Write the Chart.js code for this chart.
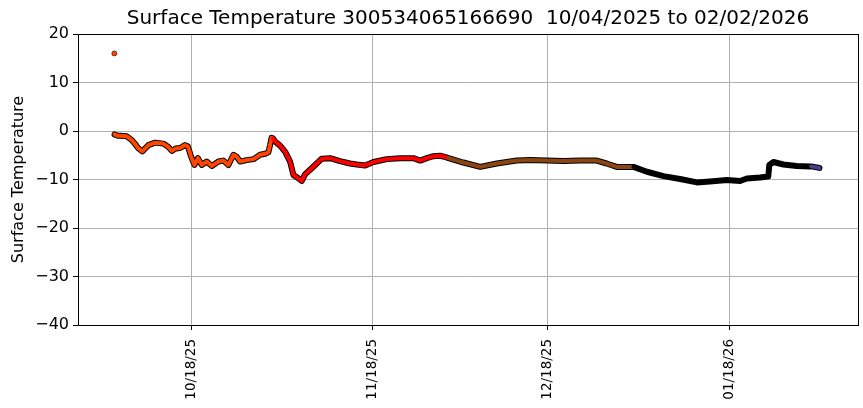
<!DOCTYPE html>
<html>
<head>
<meta charset="utf-8">
<script src="https://cdn.jsdelivr.net/npm/chart.js@4"></script>
<style>
  html, body { margin: 0; padding: 0; background: #fff; }
  #wrap { width: 863px; height: 408px; }
</style>
</head>
<body>
<div id="wrap"><canvas id="myChart" width="863" height="408"></canvas></div>
<script>
// readings (UTC)
const readingTimes = [
  '2025-10-04T22:00', '2025-10-05T12:00', '2025-10-05T21:00', '2025-10-07T00:00', '2025-10-07T21:00',
  '2025-10-08T09:00', '2025-10-09T00:00', '2025-10-09T16:00', '2025-10-10T17:00', '2025-10-11T20:00',
  '2025-10-13T06:00', '2025-10-14T03:00', '2025-10-14T17:00', '2025-10-15T09:00', '2025-10-16T03:00',
  '2025-10-16T23:00', '2025-10-17T11:00', '2025-10-18T00:00', '2025-10-18T14:00', '2025-10-19T04:00',
  '2025-10-19T20:00', '2025-10-20T16:00', '2025-10-21T13:00', '2025-10-22T16:00', '2025-10-23T12:00',
  '2025-10-24T09:00', '2025-10-25T06:00', '2025-10-25T19:00', '2025-10-26T09:00', '2025-10-27T12:00',
  '2025-10-28T16:00', '2025-10-29T19:00', '2025-10-30T16:00', '2025-10-31T05:00', '2025-10-31T12:00',
  '2025-10-31T18:00',
  '2025-11-01T00:00', '2025-11-01T09:00', '2025-11-02T05:00', '2025-11-03T02:00', '2025-11-03T22:00',
  '2025-11-04T12:00', '2025-11-05T04:00', '2025-11-05T22:00', '2025-11-06T12:00', '2025-11-07T08:00',
  '2025-11-08T05:00', '2025-11-09T08:00', '2025-11-10T18:00', '2025-11-12T11:00', '2025-11-14T04:00',
  '2025-11-15T08:00', '2025-11-16T18:00', '2025-11-18T04:00', '2025-11-20T11:00', '2025-11-22T18:00',
  '2025-11-25T00:00', '2025-11-26T04:00', '2025-11-27T07:00', '2025-11-28T10:00', '2025-11-29T13:00',
  '2025-11-30T12:00',
  '2025-12-01T00:00', '2025-12-03T13:00', '2025-12-06T10:00', '2025-12-09T06:00', '2025-12-12T16:00',
  '2025-12-15T00:00', '2025-12-17T19:00', '2025-12-20T15:00', '2025-12-23T12:00', '2025-12-26T08:00',
  '2025-12-28T01:00', '2025-12-29T18:00', '2025-12-31T12:00',
  '2026-01-01T15:00', '2026-01-03T22:00', '2026-01-06T18:00', '2026-01-09T14:00', '2026-01-12T11:00',
  '2026-01-14T17:00', '2026-01-17T14:00', '2026-01-19T20:00', '2026-01-21T00:00', '2026-01-23T06:00',
  '2026-01-24T16:00', '2026-01-24T20:00', '2026-01-25T13:00', '2026-01-27T06:00', '2026-01-29T13:00',
  '2026-01-31T19:00',
  '2026-02-01T00:00', '2026-02-02T10:00'
];
const readingTemps = [
  -0.7, -1.0, -1.0, -1.1, -1.9,
  -2.6, -3.6, -4.2, -2.9, -2.4,
  -2.6, -3.3, -4.1, -3.6, -3.5,
  -2.9, -3.2, -5.3, -7.0, -5.6,
  -7.0, -6.3, -7.2, -6.3, -6.1,
  -7.0, -4.9, -5.3, -6.3, -6.0,
  -5.8, -4.9, -4.7, -4.4, -2.9,
  -1.4,
  -1.5, -2.2, -3.0, -4.3, -6.3,
  -9.1, -9.6, -10.3, -8.9, -8.0,
  -7.0, -5.7, -5.6, -6.2, -6.7,
  -6.9, -7.1, -6.4, -5.8, -5.6,
  -5.6, -6.1, -5.6, -5.2, -5.1,
  -5.4,
  -5.6, -6.5, -7.4, -6.7, -6.1,
  -6.0, -6.1, -6.2, -6.1, -6.1,
  -6.7, -7.4, -7.4,
  -7.4, -8.4, -9.3, -9.9, -10.6,
  -10.4, -10.1, -10.3, -9.8, -9.6,
  -9.4, -7.0, -6.4, -6.9, -7.2,
  -7.3,
  -7.3, -7.6
];
// lone reading well above the rest
const outlierTimes = ['2025-10-04T21:00'];
const outlierTemps = [16.0];

const tickDates = ['2025-10-18T00:00', '2025-11-18T00:00', '2025-12-18T00:00', '2026-01-18T00:00'];
const yTicks = [-40, -30, -20, -10, 0, 10, 20];
// colour by month: Oct, Nov, Dec, Jan, Feb
const monthColors = { 9: '#ff4500', 10: '#ff0000', 11: '#8b4513', 0: '#000000', 1: '#483d8b' };

const titleText = 'Surface Temperature 300534065166690  10/04/2025 to 02/02/2026';

function utc(s) { return Date.parse(s + ':00Z'); }
function colorAt(ms) { return monthColors[new Date(ms).getUTCMonth()]; }
function pad2(n) { return String(n).padStart(2, '0'); }

const points = readingTimes.map((t, i) => ({ x: utc(t), y: readingTemps[i] }));
const outliers = outlierTimes.map((t, i) => ({ x: utc(t), y: outlierTemps[i] }));
const xMin = utc('2025-09-28T16:00');
const xMax = utc('2026-02-09T00:00');

// full box around the plot + title centred over the axes (matplotlib style)
const frame = {
  id: 'frame',
  afterDraw(chart) {
    const a = chart.chartArea, c = chart.ctx;
    c.save();
    c.strokeStyle = '#000';
    c.lineWidth = 1;
    c.strokeRect(Math.round(a.left) + 0.5, Math.round(a.top) + 0.5,
                 Math.round(a.right - a.left), Math.round(a.bottom - a.top));
    c.fillStyle = '#000';
    c.font = '20px "DejaVu Sans", sans-serif';
    c.textAlign = 'center';
    c.textBaseline = 'middle';
    c.fillText(titleText, (a.left + a.right) / 2, 19);
    c.restore();
  }
};

Chart.defaults.font.family = '"DejaVu Sans", sans-serif';
Chart.defaults.color = '#000';

new Chart(document.getElementById('myChart'), {
  type: 'line',
  data: {
    datasets: [
      {
        data: points,
        borderWidth: 4,
        borderColor: '#ff4500',
        segment: { borderColor: ctx => colorAt(ctx.p0.parsed.x) },
        borderCapStyle: 'round',
        borderJoinStyle: 'round',
        pointRadius: 0,
        tension: 0,
        order: 1
      },
      {
        data: points,
        borderWidth: 6,
        borderColor: '#000',
        borderCapStyle: 'round',
        borderJoinStyle: 'round',
        pointRadius: 0,
        tension: 0,
        order: 2
      },
      {
        data: outliers,
        showLine: false,
        pointRadius: 2.5,
        pointBackgroundColor: outliers.map(p => colorAt(p.x)),
        pointBorderColor: '#000',
        pointBorderWidth: 0.6,
        order: 0
      }
    ]
  },
  options: {
    responsive: false,
    animation: false,
    layout: { padding: { left: 0, right: 5, top: 34, bottom: 0 } },
    plugins: {
      legend: { display: false },
      tooltip: { enabled: false },
      title: { display: false }
    },
    scales: {
      x: {
        type: 'linear',
        min: xMin,
        max: xMax,
        afterBuildTicks: s => { s.ticks = tickDates.map(t => ({ value: utc(t) })); },
        afterFit: s => { s.height = 83; },
        grid: { color: '#b0b0b0', lineWidth: 1, tickColor: '#000', tickLength: 5 },
        border: { display: true, color: '#000', width: 1 },
        ticks: {
          autoSkip: false,
          minRotation: 90,
          maxRotation: 90,
          padding: 9,
          font: { size: 13.5 },
          callback: v => {
            const d = new Date(v);
            return pad2(d.getUTCMonth() + 1) + '/' + pad2(d.getUTCDate()) + '/' + pad2(d.getUTCFullYear() % 100);
          }
        }
      },
      y: {
        min: -40,
        max: 20,
        afterBuildTicks: s => { s.ticks = yTicks.map(v => ({ value: v })); },
        afterFit: s => { s.width = 78; },
        grid: { color: '#b0b0b0', lineWidth: 1, tickColor: '#000', tickLength: 5 },
        border: { display: true, color: '#000', width: 1 },
        title: {
          display: true,
          text: 'Surface Temperature',
          color: '#000',
          font: { size: 16 },
          padding: { top: 9, bottom: 0 }
        },
        ticks: {
          padding: 4,
          font: { size: 16 },
          callback: v => (v < 0 ? '\u2212' + Math.abs(v) : String(v))
        }
      }
    }
  },
  plugins: [frame]
});
</script>
</body>
</html>
